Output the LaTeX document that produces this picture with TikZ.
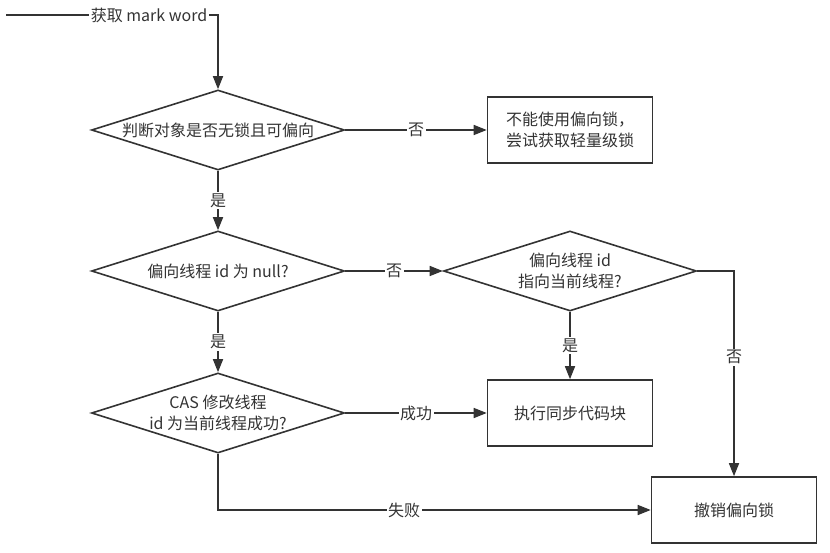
\documentclass[tikz,border=0pt]{standalone}
\usepackage{fontspec}
\setmainfont{Noto Sans CJK SC}
\usetikzlibrary{shapes.geometric,arrows.meta}
\definecolor{ink}{HTML}{333333}
\begin{document}
\begin{tikzpicture}[x=1pt,y=-1pt,
        font=\fontsize{16}{20.5}\selectfont, text=ink,
        line/.style = {draw=ink,line width=1.6pt},
        arrow/.style = {line,-{Stealth[inset=0pt,length=13pt,width=10pt]}},
        decision/.style = {line,diamond,minimum width=253pt,minimum height=80pt,inner sep=0pt},
        stepbox/.style = {line,rectangle,minimum width=165pt,minimum height=66pt,align=center},
        tag/.style = {fill=white,inner sep=1.5pt}]
    \useasboundingbox (0,0) rectangle (830,553);

    \coordinate (st) at (6,15);
    \node[inner sep=2pt] (mw) at (149,15) {获取 mark word};
    \node[decision,label={center:判断对象是否无锁且可偏向}] (d1) at (218,130) {};
    \node[stepbox] (b1) at (570,130) {不能使用偏向锁，\\尝试获取轻量级锁};
    \node[decision,label={center:偏向线程 id 为 null?}] (d2) at (218,271) {};
    \node[decision,label={[align=center]center:偏向线程 id\\指向当前线程?}] (d3) at (570,271) {};
    \node[decision,label={[align=center]center:CAS 修改线程\\id 为当前线程成功?}] (d4) at (218,413) {};
    \node[stepbox] (b2) at (570,413) {执行同步代码块};
    \node[stepbox] (b3) at (734,510) {撤销偏向锁};

    \draw[line] (st) -- (mw);
    \draw[arrow] (mw) -| (d1);
    \draw[arrow] (d1) -- node[tag] {否} (b1);
    \draw[arrow] (d1) -- node[tag] {是} (d2);
    \draw[arrow] (d2) -- node[tag] {否} (d3);
    \draw[arrow] (d2) -- node[tag] {是} (d4);
    \draw[arrow] (d3) -- node[tag] {是} (b2);
    \draw[arrow] (d3) -| node[tag,pos=0.71] {否} (b3);
    \draw[arrow] (d4) -- node[tag] {成功} (b2);
    \draw[arrow] (d4) |- node[tag,pos=0.715] {失败} (b3);
\end{tikzpicture}
\end{document}
